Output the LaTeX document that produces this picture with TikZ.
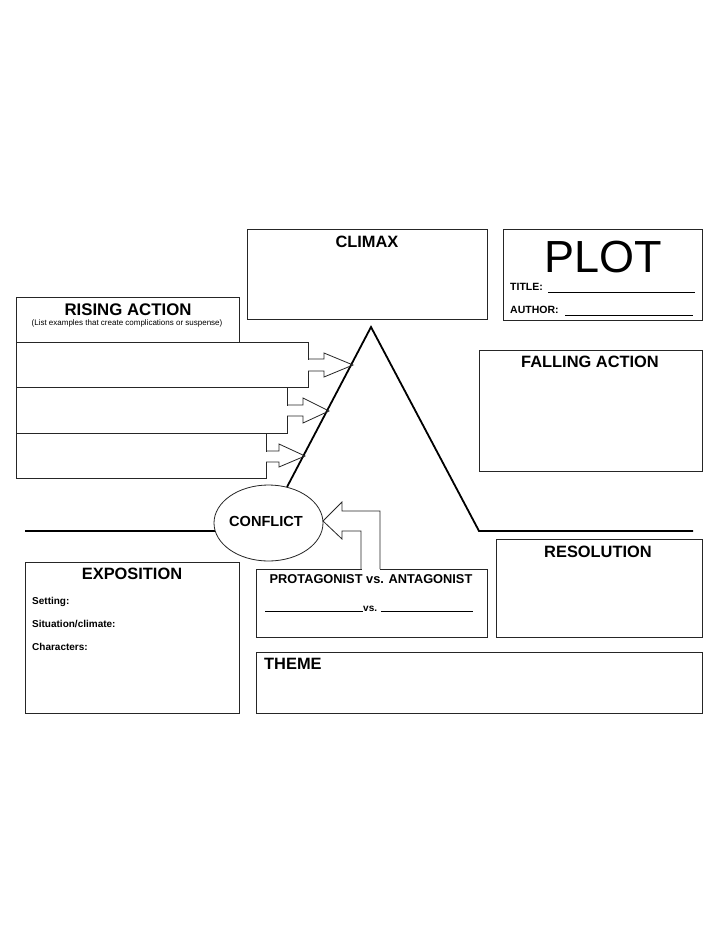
\documentclass[tikz,border=0pt]{standalone}
\usepackage{fontspec}
\setmainfont{Liberation Sans}
\usetikzlibrary{shapes.geometric}
\tikzset{
  boxline/.style={draw=black!85, line width=0.9pt},
  legline/.style={draw=black, line width=1.8pt, line join=miter},
  arrowshape/.style={draw=black!85, line width=0.8pt, line join=miter},
  title/.style={font=\fontsize{16.4}{18}\selectfont\bfseries, inner sep=0pt},
  small/.style={font=\fontsize{10}{11}\selectfont\bfseries, inner sep=0pt, anchor=west},
}
\begin{document}
\begin{tikzpicture}[x=1pt,y=-1pt]
\useasboundingbox[fill=white] (0,0) rectangle (728,943);

% ---- triangle and baseline ----
\coordinate (apex) at (371,327);
\coordinate (leftfoot) at (287,487);
\coordinate (rightfoot) at (479,531);
\coordinate (baseL) at (25,531);
\coordinate (baseLend) at (216,531);
\coordinate (baseR) at (693,531);
\draw[legline] (leftfoot) -- (apex) -- (rightfoot) -- (baseR);
\draw[legline] (baseL) -- (baseLend);

% ---- top boxes ----
\draw[boxline] (247,229) rectangle (487,319);
\node[title] (climax) at (367,242) {CLIMAX};

\draw[boxline] (503,229) rectangle (702,320);
\node[inner sep=0pt, font=\fontsize{45}{45}\selectfont] (plot) at (603,257) {PLOT};
\node[small, font=\fontsize{10.5}{11}\selectfont\bfseries] (titlelbl) at (510,287) {TITLE:};
\node[small, font=\fontsize{10.5}{11}\selectfont\bfseries] (authorlbl) at (510,310) {AUTHOR:};
\coordinate (tl1) at (548,292); \coordinate (tl2) at (695,292);
\coordinate (al1) at (565,315); \coordinate (al2) at (693,315);
\draw[line width=0.9pt] (tl1) -- (tl2);
\draw[line width=0.9pt] (al1) -- (al2);

% ---- rising action ----
\draw[boxline] (16,297) rectangle (239,342);
\node[title, font=\fontsize{16.8}{18}\selectfont\bfseries] (rising) at (128,310) {RISING ACTION};
\node[inner sep=0pt, font=\fontsize{8}{9}\selectfont] (risingsub) at (127,323) {(List examples that create complications or suspense)};

\draw[boxline] (16,342) rectangle (308,387);
\draw[boxline] (16,387) rectangle (287,433);
\draw[boxline] (16,433) rectangle (266,478);

% arrow 1
\fill[white] (306,359.5) rectangle (309.5,370.5);
\draw[arrowshape] (308,359) -- (324,359) -- (324,353) -- (353,365) -- (324,377) -- (324,371) -- (308,371);
% arrow 2
\fill[white] (285,405.5) rectangle (288.5,415.5);
\draw[arrowshape] (287,405) -- (303,405) -- (303,398) -- (329,411) -- (303,423) -- (303,416) -- (287,416);
% arrow 3
\fill[white] (264,451.5) rectangle (267.5,461.5);
\draw[arrowshape] (266,451) -- (279,451) -- (279,444) -- (305,456) -- (279,467) -- (279,462) -- (266,462);

% ---- falling action ----
\draw[boxline] (479,350) rectangle (702,471);
\node[title] (falling) at (590,362) {FALLING ACTION};

% ---- resolution ----
\draw[boxline] (496,539) rectangle (702,637);
\node[title] (resolution) at (598,552) {RESOLUTION};

% ---- protagonist box ----
\draw[boxline] (256,569) rectangle (487,637);
\node[inner sep=0pt, font=\fontsize{12.8}{14}\selectfont\bfseries] (protag) at (371,579) {PROTAGONIST vs. ANTAGONIST};
\node[inner sep=0pt, font=\fontsize{10}{11}\selectfont\bfseries] (vs) at (369,609) {\rule{98pt}{0.9pt}vs. \rule{92pt}{0.9pt}};

% conflict arrow
\fill[white] (361.5,567) rectangle (379.5,570.5);
\draw[arrowshape] (361,569) -- (361,531) -- (342,531) -- (342,539) -- (323,521) -- (342,502) -- (342,511) -- (380,511) -- (380,569);

% ---- conflict ellipse ----
\node[ellipse, draw=black!85, line width=0.8pt, fill=white, minimum width=109pt, minimum height=76pt, inner sep=0pt] (conflictell) at (268.5,523) {};
\node[title, font=\fontsize{14.6}{16}\selectfont\bfseries] (conflict) at (266,521) {CONFLICT};

% ---- exposition ----
\draw[boxline] (25,562) rectangle (239,713);
\node[title] (expo) at (132,574) {EXPOSITION};
\node[small] (setting) at (32,602) {Setting:};
\node[small] (situation) at (32,624) {Situation/climate:};
\node[small] (characters) at (32,647) {Characters:};

% ---- theme ----
\draw[boxline] (256,652) rectangle (702,713);
\node[title, anchor=west] (theme) at (264,664) {THEME};

\end{tikzpicture}
\end{document}
